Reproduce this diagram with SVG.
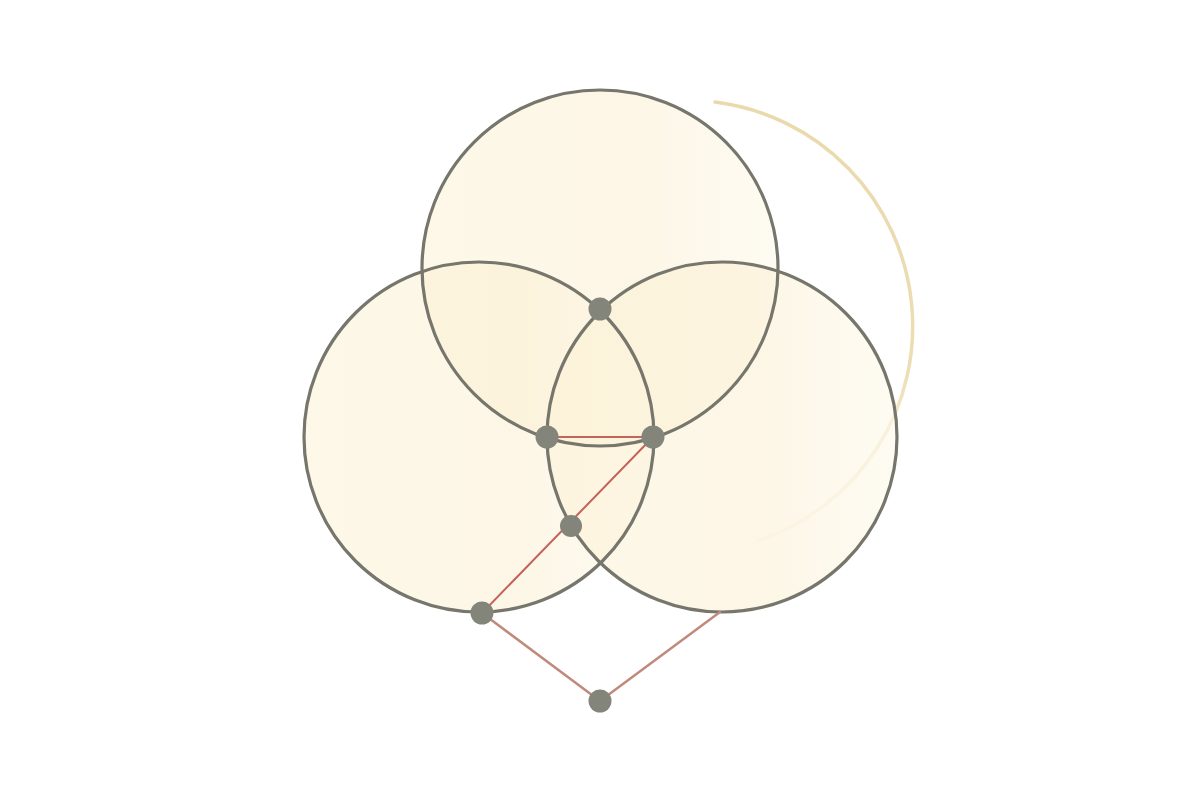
<svg xmlns="http://www.w3.org/2000/svg" width="1200" height="800" viewBox="0 0 1200 800">
  <defs>
    <linearGradient id="arcFade" gradientUnits="userSpaceOnUse" x1="700" y1="100" x2="760" y2="545">
      <stop offset="0" stop-color="#ead9ab" stop-opacity="1"/>
      <stop offset="0.65" stop-color="#ead9ab" stop-opacity="0.9"/>
      <stop offset="1" stop-color="#ead9ab" stop-opacity="0.12"/>
    </linearGradient>
    <linearGradient id="circFill" x1="0" y1="0" x2="1" y2="0">
      <stop offset="0" stop-color="#fcf2d6"/>
      <stop offset="0.6" stop-color="#fbefd2"/>
      <stop offset="1" stop-color="#fdf8e8"/>
    </linearGradient>
  </defs>
  <style>
    .fill { fill: url(#circFill); fill-opacity: 0.55; stroke: none; }
    .ring { fill: none; stroke: #76766c; stroke-width: 3.2; }
    .dot { fill: #84857a; }
    .edge { fill: none; stroke-linecap: round; }
    .e1 { stroke: #c4625c; stroke-width: 2; }
    .e2 { stroke: #c08a7c; stroke-width: 2.5; }
  </style>
  <rect width="1200" height="800" fill="#ffffff"/>
  <path d="M 715 102 A 226 226 0 0 1 760 540" fill="none" stroke="url(#arcFade)" stroke-width="3.5" stroke-linecap="round"/>
  <g id="circle-top"><circle class="fill" cx="600" cy="268" r="178"/></g>
  <g id="circle-left"><circle class="fill" cx="479" cy="437" r="175"/></g>
  <g id="circle-right"><circle class="fill" cx="722" cy="437" r="175"/></g>
  <g id="circle-outlines">
    <circle class="ring" cx="600" cy="268" r="178"/>
    <circle class="ring" cx="479" cy="437" r="175"/>
    <circle class="ring" cx="722" cy="437" r="175"/>
  </g>
  <g id="connectors">
    <line class="edge e1" x1="547" y1="437" x2="653" y2="437"/>
    <line class="edge e1" x1="653" y1="437" x2="482" y2="613"/>
    <line class="edge e2" x1="482" y1="613" x2="600" y2="701"/>
    <line class="edge e2" x1="600" y1="701" x2="720" y2="612"/>
  </g>
  <g id="node-top"><circle class="dot" cx="600" cy="309" r="11.5"/></g>
  <g id="node-left"><circle class="dot" cx="547" cy="437" r="11.5"/></g>
  <g id="node-right"><circle class="dot" cx="653" cy="437" r="11.5"/></g>
  <g id="node-mid"><circle class="dot" cx="571" cy="526" r="11"/></g>
  <g id="node-lowleft"><circle class="dot" cx="482" cy="613" r="11.5"/></g>
  <g id="node-bottom"><circle class="dot" cx="600" cy="701" r="11.5"/></g>
</svg>
